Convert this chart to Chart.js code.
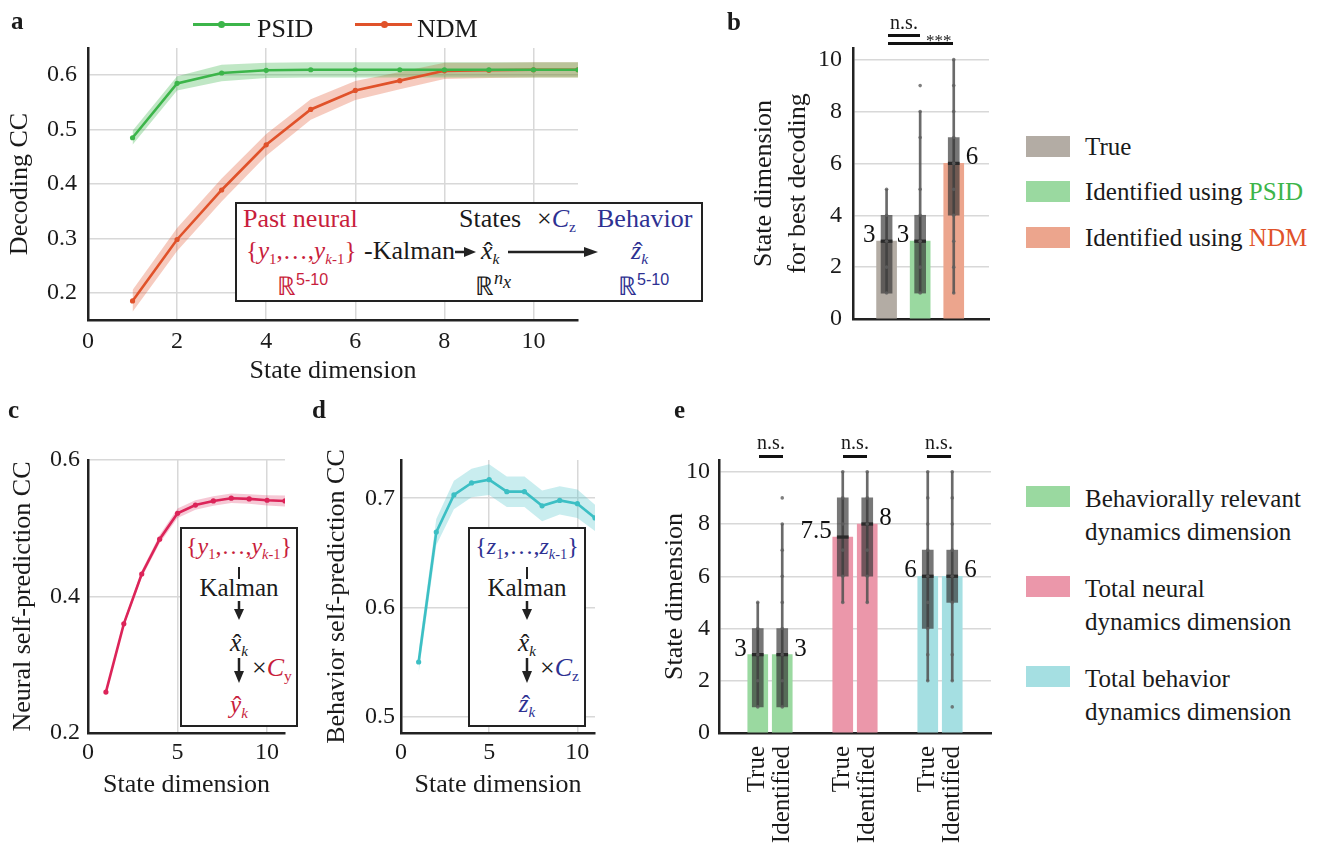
<!DOCTYPE html>
<html>
<head>
<meta charset="utf-8">
<script src="https://cdn.jsdelivr.net/npm/chart.js@4.4.1/dist/chart.umd.min.js"></script>
<style>
  body { margin: 0; background: #fff; width: 1327px; height: 845px; position: relative; overflow: hidden;
         font-family: 'Liberation Serif', serif; color: #1a1a1a; }
  canvas { position: absolute; }
  .t { position: absolute; white-space: nowrap; line-height: 1; font-size: 26px; }
  .panel { font-weight: bold; font-size: 25px; }
  .red { color: #c81e3c; }
  .blue { color: #2e3192; }
  sub { font-size: 0.6em; vertical-align: -0.32em; line-height: 0; }
  sup { font-size: 0.62em; vertical-align: 0.6em; line-height: 0; font-family: 'Liberation Sans', sans-serif; }
  .hat { position: relative; display: inline-block; font-style: italic; }
  .hat::after { content: '\02C6'; position: absolute; left: 0.12em; top: 0.02em; font-style: normal; }
  .box { position: absolute; box-sizing: border-box; border: 2px solid #222; background: #fff; }
  .swatch { position: absolute; width: 44px; height: 21px; }
  .leg { position: absolute; white-space: nowrap; font-size: 25px; line-height: 33px; }
  .sig { position: absolute; height: 3px; background: #111; }
  .ns { position: absolute; font-size: 20px; line-height: 1; transform: translateX(-50%); }
  .row { position: absolute; text-align: center; white-space: nowrap; line-height: 1; font-size: 25px; }
</style>
</head>
<body>

<canvas id="chartA" width="600" height="400" style="left:0;top:0"></canvas>
<canvas id="chartB" width="300" height="400" style="left:700px;top:0"></canvas>
<canvas id="chartC" width="310" height="425" style="left:0;top:420px"></canvas>
<canvas id="chartD" width="310" height="425" style="left:310px;top:420px"></canvas>
<canvas id="chartE" width="380" height="425" style="left:640px;top:420px"></canvas>

<!-- panel letters -->
<div class="t panel" style="left:11px;top:8px">a</div>
<div class="t panel" style="left:727px;top:9px">b</div>
<div class="t panel" style="left:8px;top:397px">c</div>
<div class="t panel" style="left:312px;top:397px">d</div>
<div class="t panel" style="left:674px;top:397px">e</div>

<!-- legend a -->
<div style="position:absolute;left:193px;top:23px;width:57px;height:3px;background:#3cb54a"></div>
<div style="position:absolute;left:218px;top:21px;width:7px;height:7px;border-radius:50%;background:#3cb54a"></div>
<div class="t" style="left:257px;top:16px">PSID</div>
<div style="position:absolute;left:355px;top:23px;width:57px;height:3px;background:#e0522a"></div>
<div style="position:absolute;left:381px;top:21px;width:7px;height:7px;border-radius:50%;background:#e0522a"></div>
<div class="t" style="left:417px;top:16px">NDM</div>

<!-- inset a -->
<div class="box" style="left:235px;top:202px;width:468px;height:100px"></div>
<div class="t red" style="left:243px;top:206px">Past neural</div>
<div class="t" style="left:459px;top:206px">States</div>
<div class="t" style="left:537px;top:206px">&times;<i class="blue">C</i><sub class="blue">z</sub></div>
<div class="t blue" style="left:597px;top:206px">Behavior</div>
<div class="t red" style="left:246px;top:238px;font-size:25px">{<i>y</i><sub>1</sub>,&hellip;,<i>y</i><sub><i>k</i>-1</sub>}</div>
<div class="t" style="left:364px;top:238px">-Kalman</div>
<svg style="position:absolute;left:455px;top:246px" width="22" height="12"><line x1="0" y1="6" x2="12" y2="6" stroke="#222" stroke-width="2.5"/><polygon points="9,1 21,6 9,11" fill="#222"/></svg>
<div class="t" style="left:481px;top:238px"><span class="hat">x</span><sub><i>k</i></sub></div>
<svg style="position:absolute;left:508px;top:246px" width="92" height="12"><line x1="0" y1="6" x2="80" y2="6" stroke="#222" stroke-width="2.5"/><polygon points="76,1 90,6 76,11" fill="#222"/></svg>
<div class="t blue" style="left:631px;top:238px"><span class="hat">z</span><sub><i>k</i></sub></div>
<div class="t red" style="left:277px;top:274px">&#8477;<sup>5-10</sup></div>
<div class="t" style="left:475px;top:274px">&#8477;<sup style="font-family:'Liberation Serif',serif;font-size:0.7em"><i>n</i><i style="vertical-align:-0.2em">x</i></sup></div>
<div class="t blue" style="left:618px;top:274px">&#8477;<sup>5-10</sup></div>

<!-- inset c -->
<div class="box" style="left:180px;top:527px;width:118px;height:200px"></div>
<div class="row red" style="left:180px;width:118px;top:534px;font-size:24px">{<i>y</i><sub>1</sub>,&hellip;,<i>y</i><sub><i>k</i>-1</sub>}</div>
<div style="position:absolute;left:238px;top:567px;width:2px;height:12px;background:#222"></div>
<div class="row" style="left:180px;width:118px;top:575px">Kalman</div>
<svg style="position:absolute;left:233px;top:601px" width="12" height="20"><line x1="6" y1="0" x2="6" y2="12" stroke="#222" stroke-width="2.5"/><polygon points="1,8 11,8 6,19" fill="#222"/></svg>
<div class="row" style="left:180px;width:118px;top:630px"><span class="hat">x</span><sub><i>k</i></sub></div>
<svg style="position:absolute;left:233px;top:658px" width="12" height="26"><line x1="6" y1="0" x2="6" y2="16" stroke="#222" stroke-width="2.5"/><polygon points="1,13 11,13 6,25" fill="#222"/></svg>
<div class="t" style="left:252px;top:655px">&times;<i class="red">C</i><sub class="red">y</sub></div>
<div class="row red" style="left:180px;width:118px;top:692px"><span class="hat">y</span><sub><i>k</i></sub></div>

<!-- inset d -->
<div class="box" style="left:468px;top:527px;width:118px;height:200px"></div>
<div class="row blue" style="left:468px;width:118px;top:534px;font-size:24px">{<i>z</i><sub>1</sub>,&hellip;,<i>z</i><sub><i>k</i>-1</sub>}</div>
<div style="position:absolute;left:526px;top:567px;width:2px;height:12px;background:#222"></div>
<div class="row" style="left:468px;width:118px;top:575px">Kalman</div>
<svg style="position:absolute;left:521px;top:601px" width="12" height="20"><line x1="6" y1="0" x2="6" y2="12" stroke="#222" stroke-width="2.5"/><polygon points="1,8 11,8 6,19" fill="#222"/></svg>
<div class="row" style="left:468px;width:118px;top:630px"><span class="hat">x</span><sub><i>k</i></sub></div>
<svg style="position:absolute;left:521px;top:658px" width="12" height="26"><line x1="6" y1="0" x2="6" y2="16" stroke="#222" stroke-width="2.5"/><polygon points="1,13 11,13 6,25" fill="#222"/></svg>
<div class="t" style="left:540px;top:655px">&times;<i class="blue">C</i><sub class="blue">z</sub></div>
<div class="row blue" style="left:468px;width:118px;top:691px"><span class="hat">z</span><sub><i>k</i></sub></div>

<!-- significance b -->
<div class="ns" style="left:904px;top:12px">n.s.</div>
<div class="sig" style="left:888px;top:34px;width:32px"></div>
<div class="sig" style="left:888px;top:42px;width:65px"></div>
<div class="t" style="left:926px;top:32px;font-size:17px">***</div>

<!-- significance e -->
<div class="ns" style="left:771px;top:432px">n.s.</div>
<div class="sig" style="left:759px;top:455px;width:24px"></div>
<div class="ns" style="left:855px;top:432px">n.s.</div>
<div class="sig" style="left:843px;top:455px;width:24px"></div>
<div class="ns" style="left:939px;top:432px">n.s.</div>
<div class="sig" style="left:927px;top:455px;width:24px"></div>

<div id="legendB"></div>
<div id="legendE"></div>

<script>
// ---- panel a: decoding CC vs state dimension ----
const stateDims = [1, 2, 3, 4, 5, 6, 7, 8, 9, 10, 11];
const psidCC  = [0.485, 0.585, 0.604, 0.609, 0.610, 0.610, 0.610, 0.610, 0.610, 0.610, 0.610];
const psidErr = [0.013, 0.013, 0.015, 0.014, 0.014, 0.014, 0.014, 0.014, 0.014, 0.014, 0.014];
const ndmCC   = [0.185, 0.298, 0.389, 0.472, 0.537, 0.572, 0.590, 0.608, 0.609, 0.610, 0.610];
const ndmErr  = [0.020, 0.021, 0.021, 0.020, 0.019, 0.0175, 0.016, 0.015, 0.014, 0.014, 0.014];
const aXTicks = [0, 2, 4, 6, 8, 10];
const aYTicks = [0.2, 0.3, 0.4, 0.5, 0.6];

// ---- panel c: neural self-prediction ----
const neuralSelfCC  = [0.260, 0.360, 0.433, 0.484, 0.522, 0.534, 0.540, 0.544, 0.543, 0.541, 0.540];
const neuralSelfErr = [0.003, 0.004, 0.005, 0.006, 0.007, 0.007, 0.007, 0.007, 0.007, 0.0075, 0.008];
const cXTicks = [0, 5, 10];
const cYTicks = [0.2, 0.4, 0.6];

// ---- panel d: behavior self-prediction ----
const behaviorSelfCC  = [0.550, 0.669, 0.703, 0.714, 0.717, 0.706, 0.706, 0.693, 0.698, 0.695, 0.682];
const behaviorSelfErr = [0.010, 0.012, 0.013, 0.013, 0.014, 0.014, 0.014, 0.014, 0.013, 0.013, 0.012];
const dXTicks = [0, 5, 10];
const dYTicks = [0.5, 0.6, 0.7];

// ---- panel b: state dimension for best decoding ----
const decodeGroups = ['True', 'Identified using PSID', 'Identified using NDM'];
const decodeMedians = [3, 3, 6];
const decodeBoxes = [[1, 1, 3, 4, 5], [1, 1, 3, 4, 8], [1, 4, 6, 7, 10]]; // min, q1, median, q3, max
const decodeDots = [[1, 2, 3, 4, 5], [1, 2, 3, 4, 5, 7, 8, 9], [1, 2, 3, 4, 5, 6, 7, 8, 9, 10]];
const dimYTicks = [0, 2, 4, 6, 8, 10];

// ---- panel e: true vs identified dimensions ----
const dimGroups = ['Behaviorally relevant\ndynamics dimension', 'Total neural\ndynamics dimension', 'Total behavior\ndynamics dimension'];
const dimLabels = ['True', 'Identified'];
const dimMedians = [[3, 3], [7.5, 8], [6, 6]];
const dimBoxes = [
  [[1, 1, 3, 4, 5], [1, 1, 3, 4, 8]],
  [[5, 6, 7.5, 9, 10], [5, 6, 8, 9, 10]],
  [[2, 4, 6, 7, 10], [2, 5, 6, 7, 10]]
];
const dimDots = [
  [[1, 2, 3, 4, 5], [1, 2, 3, 4, 5, 6, 7, 8, 9]],
  [[5, 6, 7, 8, 9, 10], [5, 6, 7, 8, 9, 10]],
  [[2, 3, 4, 5, 6, 7, 8, 9, 10], [1, 2, 3, 5, 6, 7, 8, 9, 10]]
];

const FONT = "'Liberation Serif', serif";
const GRID = '#d8d8d8';
const AXIS = '#222';
const decodeColors = ['#b3aca4', '#9ad9a0', '#eca58d'];
const dimColors = ['#9ad9a0', '#eb97aa', '#a5dfe2'];

Chart.defaults.font.family = FONT;
Chart.defaults.color = '#1a1a1a';
Chart.defaults.animation = false;
Chart.defaults.responsive = false;
Chart.defaults.plugins.legend.display = false;
Chart.defaults.plugins.tooltip.enabled = false;

function fitAxis(size) {
  return function(scale) {
    if (scale.isHorizontal()) scale.height = size; else scale.width = size;
  };
}
function fixedTicks(values) {
  return function(scale) { scale.ticks = values.map(v => ({ value: v })); };
}
function pts(ys) { return stateDims.map((x, i) => ({ x: x, y: ys[i] })); }

function bandSets(mean, err, color) {
  return [
    { data: pts(mean.map((m, i) => m + err[i])), fill: '+1', backgroundColor: color,
      borderWidth: 0, pointRadius: 0, order: 2 },
    { data: pts(mean.map((m, i) => m - err[i])), fill: false,
      borderWidth: 0, pointRadius: 0, order: 2 }
  ];
}
function lineSet(mean, color) {
  return { data: pts(mean), borderColor: color, backgroundColor: color, borderWidth: 2.6,
           pointRadius: 2.6, pointBorderWidth: 0, fill: false, order: 0 };
}

function xLinear(min, max, ticks, height, title, titlePad, tickPad) {
  return {
    type: 'linear', min: min, max: max,
    afterBuildTicks: fixedTicks(ticks), afterFit: fitAxis(height),
    grid: { color: GRID, lineWidth: 1.5, drawTicks: false },
    border: { color: AXIS, width: 2.5 },
    ticks: { padding: tickPad, font: { size: 24 } },
    title: { display: true, text: title, font: { size: 26, lineHeight: 1.2 }, padding: { bottom: titlePad, top: 0 } }
  };
}
function yLinear(min, max, ticks, width, title, titlePad, tickPad, lineHeight) {
  return {
    type: 'linear', min: min, max: max,
    afterBuildTicks: fixedTicks(ticks), afterFit: fitAxis(width),
    grid: { color: GRID, lineWidth: 1.5, drawTicks: false },
    border: { color: AXIS, width: 2.5 },
    ticks: { padding: tickPad, font: { size: 24 }, callback: v => (Number.isInteger(v) ? String(v) : v.toFixed(1)) },
    title: { display: true, text: title, font: { size: 26, lineHeight: lineHeight || 1.2 }, padding: { top: titlePad, bottom: 0 } }
  };
}

// panel a
new Chart(document.getElementById('chartA'), {
  type: 'line',
  data: { datasets: [
    ...bandSets(psidCC, psidErr, 'rgba(60,181,74,0.32)'),
    ...bandSets(ndmCC, ndmErr, 'rgba(224,82,42,0.30)'),
    lineSet(psidCC, '#3cb54a'),
    lineSet(ndmCC, '#e0522a')
  ]},
  options: {
    layout: { padding: { left: 0, top: 48, right: 22, bottom: 0 } },
    elements: { line: { tension: 0 } },
    scales: {
      x: xLinear(0, 11, aXTicks, 80, 'State dimension', 13, 7),
      y: yLinear(0.15, 0.65, aYTicks, 88, 'Decoding CC', 5, 11)
    }
  }
});

// panel c
new Chart(document.getElementById('chartC'), {
  type: 'line',
  data: { datasets: [
    ...bandSets(neuralSelfCC, neuralSelfErr, 'rgba(220,36,89,0.25)'),
    lineSet(neuralSelfCC, '#dc2459')
  ]},
  options: {
    layout: { padding: { left: 0, top: 40, right: 25, bottom: 0 } },
    elements: { line: { tension: 0 } },
    scales: {
      x: xLinear(0, 11, cXTicks, 112, 'State dimension', 44, 5),
      y: yLinear(0.2, 0.6, cYTicks, 88, 'Neural self-prediction CC', 8, 8)
    }
  }
});

// panel d
new Chart(document.getElementById('chartD'), {
  type: 'line',
  data: { datasets: [
    ...bandSets(behaviorSelfCC, behaviorSelfErr, 'rgba(60,191,196,0.28)'),
    lineSet(behaviorSelfCC, '#3cbfc4')
  ]},
  options: {
    layout: { padding: { left: 0, top: 40, right: 25, bottom: 0 } },
    elements: { line: { tension: 0 } },
    scales: {
      x: xLinear(0, 11, dXTicks, 112, 'State dimension', 44, 5),
      y: yLinear(0.485, 0.735, dYTicks, 91, 'Behavior self-prediction CC', 12, 6)
    }
  }
});

// value labels next to bars, placed through the chart scales
const barLabels = {
  id: 'barLabels',
  afterDatasetsDraw(chart, args, opts) {
    const { ctx } = chart;
    const x = chart.scales.x, y = chart.scales.y;
    ctx.save();
    ctx.font = '25px ' + FONT;
    ctx.fillStyle = '#111';
    ctx.textBaseline = 'alphabetic';
    opts.items.forEach(it => {
      const px = x.getPixelForValue(it.x), py = y.getPixelForValue(it.y);
      ctx.textAlign = it.side === 'left' ? 'right' : 'left';
      ctx.fillText(String(it.y), px + (it.side === 'left' ? -11 : 12), py + 1);
    });
    ctx.restore();
  }
};

// box-plot overlay datasets built from [min, q1, median, q3, max]
function boxSets(xs, boxes, dots, barValues, barColors) {
  const allDots = [];
  xs.forEach((x, i) => dots[i].forEach(v => allDots.push({ x: x, y: v })));
  return [
    { type: 'scatter', data: allDots, pointRadius: 1.8, backgroundColor: 'rgba(95,95,95,0.8)',
      pointBorderWidth: 0, order: 0 },
    { type: 'bar', data: xs.map((x, i) => ({ x: x, y: [boxes[i][2] - 0.05, boxes[i][2] + 0.05] })),
      backgroundColor: '#2a2a2a', barThickness: 11, grouped: false, order: 1 },
    { type: 'bar', data: xs.map((x, i) => ({ x: x, y: [boxes[i][1], boxes[i][3]] })),
      backgroundColor: 'rgba(55,55,55,0.68)', barThickness: 11, grouped: false, order: 2 },
    { type: 'bar', data: xs.map((x, i) => ({ x: x, y: [boxes[i][0], boxes[i][4]] })),
      backgroundColor: 'rgba(80,80,80,0.85)', barThickness: 2, grouped: false, order: 3 },
    { type: 'bar', data: xs.map((x, i) => ({ x: x, y: barValues[i] })),
      backgroundColor: barColors, barThickness: 20, grouped: false, order: 4 }
  ];
}

function dimYAxis(width, title, titlePad, tickPad, lineHeight) {
  return {
    type: 'linear', min: 0, max: 10.45,
    afterBuildTicks: fixedTicks(dimYTicks), afterFit: fitAxis(width),
    grid: { color: GRID, lineWidth: 1.5, drawTicks: false },
    border: { color: AXIS, width: 2.5 },
    ticks: { padding: tickPad, font: { size: 24 } },
    title: { display: true, text: title, font: { size: 26, lineHeight: lineHeight }, padding: { top: titlePad, bottom: 0 } }
  };
}

// panel b
const bX = decodeGroups.map((g, i) => i + 1);
new Chart(document.getElementById('chartB'), {
  type: 'bar',
  data: { datasets: boxSets(bX, decodeBoxes, decodeDots, decodeMedians, decodeColors) },
  plugins: [barLabels],
  options: {
    layout: { padding: { left: 0, top: 48, right: 11, bottom: 0 } },
    plugins: { barLabels: { items: [
      { x: bX[0], y: decodeMedians[0], side: 'left' },
      { x: bX[1], y: decodeMedians[1], side: 'left' },
      { x: bX[2], y: decodeMedians[2], side: 'right' }
    ] } },
    scales: {
      x: { type: 'linear', min: 0, max: 4.05, offset: false, afterFit: fitAxis(81),
           grid: { display: false, offset: false }, border: { color: AXIS, width: 2.5 },
           ticks: { display: false } },
      y: dimYAxis(153, ['State dimension', 'for best decoding'], 47, 11, 1.3)
    }
  }
});

// panel e
const pairOffset = 0.144;
const eX = [], eBoxes = [], eDots = [], eMedians = [], eColors = [], eItems = [];
dimGroups.forEach((g, gi) => {
  dimLabels.forEach((lab, j) => {
    const x = gi + 1 + (j === 0 ? -pairOffset : pairOffset);
    eX.push(x);
    eBoxes.push(dimBoxes[gi][j]);
    eDots.push(dimDots[gi][j]);
    eMedians.push(dimMedians[gi][j]);
    eColors.push(dimColors[gi]);
    eItems.push({ x: x, y: dimMedians[gi][j], side: j === 0 ? 'left' : 'right' });
  });
});
new Chart(document.getElementById('chartE'), {
  type: 'bar',
  data: { datasets: boxSets(eX, eBoxes, eDots, eMedians, eColors) },
  plugins: [barLabels],
  options: {
    layout: { padding: { left: 0, top: 40, right: 29, bottom: 0 } },
    plugins: { barLabels: { items: eItems } },
    scales: {
      x: { type: 'linear', min: 0.4, max: 3.6, offset: false,
           afterBuildTicks: fixedTicks(eX), afterFit: fitAxis(112),
           grid: { display: false, offset: false }, border: { color: AXIS, width: 2.5 },
           ticks: { autoSkip: false, minRotation: 90, maxRotation: 90, padding: 5, font: { size: 25 },
                    callback: (v, i) => dimLabels[i % dimLabels.length] } },
      y: dimYAxis(79, 'State dimension', 20, 9, 1.2)
    }
  }
});

// HTML legends for b and e
const legendB = document.getElementById('legendB');
const legBText = ['True', 'Identified using <span style="color:#3cb54a">PSID</span>',
                  'Identified using <span style="color:#e0522a">NDM</span>'];
const legBTop = [136, 181, 227];
decodeGroups.forEach((g, i) => {
  legendB.insertAdjacentHTML('beforeend',
    `<div class="swatch" style="left:1026px;top:${legBTop[i]}px;background:${decodeColors[i]}"></div>` +
    `<div class="leg" style="left:1085px;top:${legBTop[i] - 6}px">${legBText[i]}</div>`);
});
const legendE = document.getElementById('legendE');
const legETop = [486, 576, 666];
dimGroups.forEach((g, i) => {
  legendE.insertAdjacentHTML('beforeend',
    `<div class="swatch" style="left:1026px;top:${legETop[i]}px;background:${dimColors[i]}"></div>` +
    `<div class="leg" style="left:1085px;top:${legETop[i] - 4}px">${g.replace('\n', '<br>')}</div>`);
});
</script>
</body>
</html>
